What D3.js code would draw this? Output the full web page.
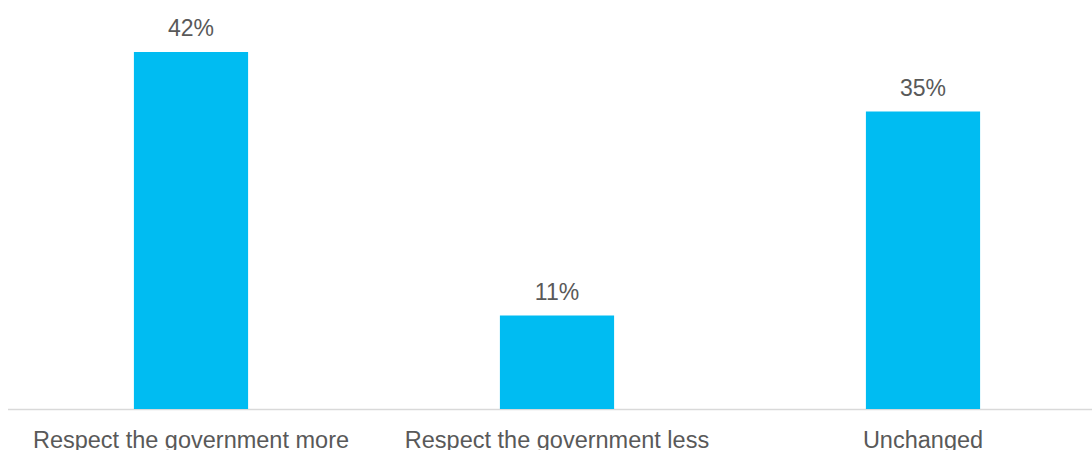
<!DOCTYPE html>
<html>
<head>
<meta charset="utf-8">
<script src="https://cdn.jsdelivr.net/npm/d3@7"></script>
<style>
  html, body { margin: 0; padding: 0; background: #fff; }
  svg { display: block; }
  text { font-family: "Liberation Sans", Arial, sans-serif; fill: #595959; }
</style>
</head>
<body>
<svg id="chart" width="1092" height="450"></svg>
<script>
const categories = ["Respect the government more", "Respect the government less", "Unchanged"];
const values = [42, 11, 35];
const valueLabels = ["42%", "11%", "35%"];

const svg = d3.select("#chart");
const baseline = 409;

const x = d3.scaleBand().domain(categories).range([8, 1106]).padding(0);
const y = d3.scaleLinear().domain([0, 42]).range([baseline, 52]);
const barW = x.step() * 0.312;

// baseline axis
svg.append("line")
  .attr("x1", 8).attr("x2", 1092)
  .attr("y1", baseline + 0.5).attr("y2", baseline + 0.5)
  .attr("stroke", "#d9d9d9").attr("stroke-width", 1.5);

// bars
svg.selectAll("rect.bar").data(categories).join("rect")
  .attr("class", "bar")
  .attr("x", d => x(d) + x.bandwidth() / 2 - barW / 2)
  .attr("width", barW)
  .attr("y", (d, i) => y(values[i]))
  .attr("height", (d, i) => baseline - y(values[i]))
  .attr("fill", "#00bcf2");

// value labels
svg.selectAll("text.val").data(categories).join("text")
  .attr("class", "val")
  .attr("x", d => x(d) + x.bandwidth() / 2)
  .attr("y", (d, i) => y(values[i]) - 16)
  .attr("text-anchor", "middle")
  .style("font-size", "23px")
  .text((d, i) => valueLabels[i]);

// category labels
svg.selectAll("text.cat").data(categories).join("text")
  .attr("class", "cat")
  .attr("x", d => x(d) + x.bandwidth() / 2)
  .attr("y", 448)
  .attr("text-anchor", "middle")
  .style("font-size", "23.5px")
  .text(d => d);
</script>
</body>
</html>
